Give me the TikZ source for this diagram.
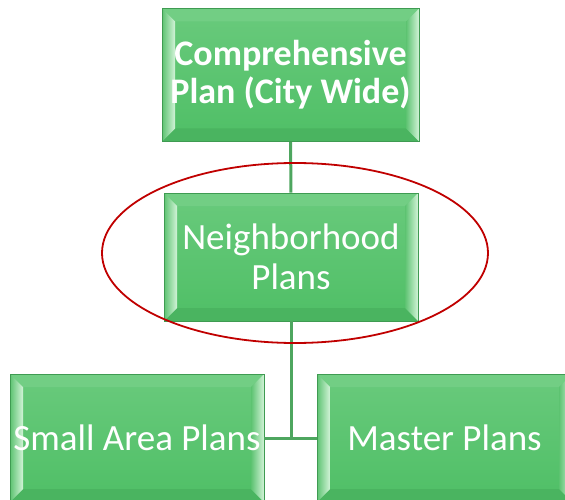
\documentclass[tikz,border=0pt]{standalone}
\usepackage{fontspec}
\setmainfont{Carlito}
\usetikzlibrary{positioning,calc}
\definecolor{facetop}{HTML}{69CA7C}
\definecolor{facebot}{HTML}{4FBF66}
\definecolor{planedge}{HTML}{3F9B52}
\definecolor{bevtop}{HTML}{72CE84}
\definecolor{bevbot}{HTML}{4AB460}
\definecolor{bevpale}{HTML}{D2F3D8}
\definecolor{bevmid}{HTML}{5DC371}
\definecolor{linkgreen}{HTML}{4EA65F}
\definecolor{ringred}{HTML}{C00000}
\def\bevdepth{13pt}
\tikzset{>=stealth,
  plan/.style={draw=planedge,line width=.8pt,top color=facetop,bottom color=facebot,
    minimum width=255pt,minimum height=128pt,inner sep=0pt,text=white,align=center,
    font=\fontsize{37}{40}\selectfont,
    path picture={
      \path (path picture bounding box.north west) coordinate (pNW)
            (path picture bounding box.north east) coordinate (pNE)
            (path picture bounding box.south west) coordinate (pSW)
            (path picture bounding box.south east) coordinate (pSE);
      \fill[bevtop] (pNW) -- (pNE) -- ([shift={(-\bevdepth,-\bevdepth)}]pNE) -- ([shift={(\bevdepth,-\bevdepth)}]pNW) -- cycle;
      \fill[bevbot] (pSW) -- (pSE) -- ([shift={(-\bevdepth,\bevdepth)}]pSE) -- ([shift={(\bevdepth,\bevdepth)}]pSW) -- cycle;
      \shade[left color=bevmid,right color=bevpale] (pNW) -- ([shift={(\bevdepth,-\bevdepth)}]pNW) -- ([shift={(\bevdepth,\bevdepth)}]pSW) -- (pSW) -- cycle;
      \shade[left color=bevmid,right color=bevpale] (pNE) -- ([shift={(-\bevdepth,-\bevdepth)}]pNE) -- ([shift={(-\bevdepth,\bevdepth)}]pSE) -- (pSE) -- cycle;
    }},
  link/.style={draw=linkgreen,line width=3pt},
  ring/.style={draw=ringred,line width=1.8pt}
}

\begin{document}
\begin{tikzpicture}[x=1pt,y=-1pt]
\useasboundingbox (0,0) rectangle (565,500);
\node[plan,minimum width=257pt,minimum height=133pt,font=\fontsize{36}{38}\selectfont\bfseries] (city) at (290.5,75) {Comprehensive\\Plan (City Wide)};
\node[plan,minimum width=254pt] (hood) at (291,257) {Neighborhood\\Plans};
\node[plan,minimum width=254pt] (small) at (137,438) {Small Area Plans};
\node[plan] (master) at (444.5,438) {Master Plans};
\coordinate (join) at (hood.south |- small.east);
\draw[link] (city) -- (hood);
\draw[link] (hood) -- (join);
\draw[link] (small) -- (master);
\draw[ring] (295,253) ellipse [x radius=193,y radius=90];
\end{tikzpicture}
\end{document}
